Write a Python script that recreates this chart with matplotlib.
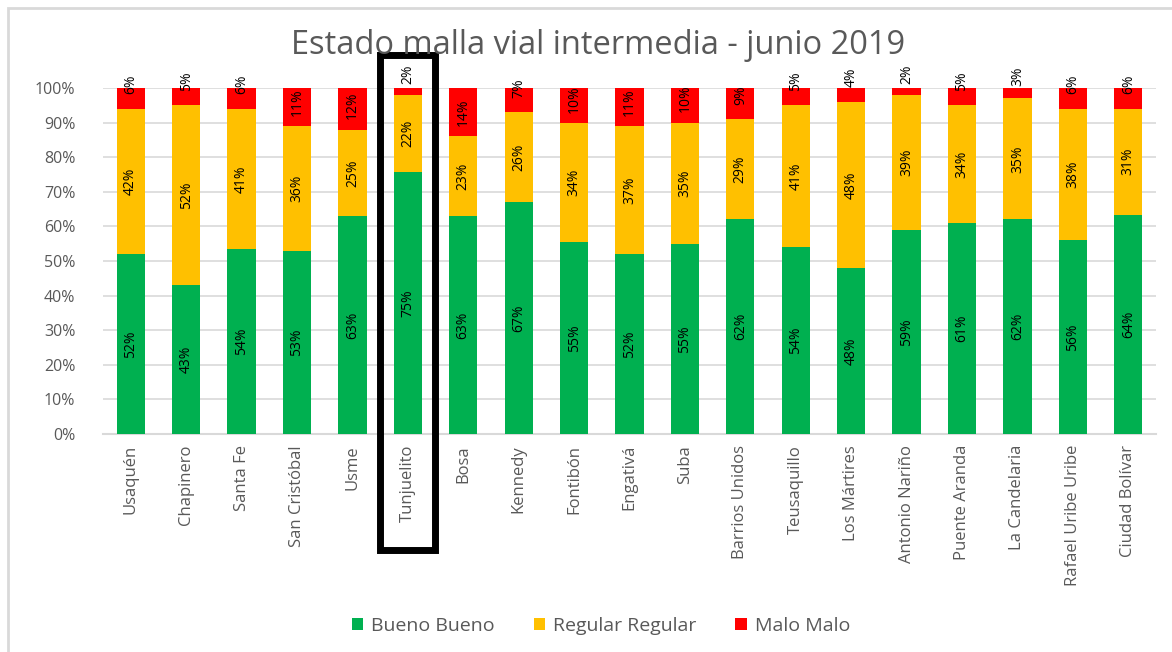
import matplotlib
matplotlib.use("Agg")
import matplotlib.pyplot as plt
from matplotlib.patches import Rectangle
import numpy as np

plt.rcParams['font.family'] = ['Open Sans', 'DejaVu Sans']

localidades = ['Usaquén', 'Chapinero', 'Santa Fe', 'San Cristóbal', 'Usme',
               'Tunjuelito', 'Bosa', 'Kennedy', 'Fontibón', 'Engativá', 'Suba',
               'Barrios Unidos', 'Teusaquillo', 'Los Mártires', 'Antonio Nariño',
               'Puente Aranda', 'La Candelaria', 'Rafael Uribe Uribe',
               'Ciudad Bolívar']
bueno = [52, 43, 54, 53, 63, 75, 63, 67, 55, 52, 55, 62, 54, 48, 59, 61, 62, 56, 64]
regular = [42, 52, 41, 36, 25, 22, 23, 26, 34, 37, 35, 29, 41, 48, 39, 34, 35, 38, 31]
malo = [6, 5, 6, 11, 12, 2, 14, 7, 10, 11, 10, 9, 5, 4, 2, 5, 3, 6, 6]
series_names = ['Bueno Bueno', 'Regular Regular', 'Malo Malo']
colors = ['#00B050', '#FFC000', '#FF0000']
resaltada = 'Tunjuelito'

vals = np.array([bueno, regular, malo], dtype=float)
pct = vals / vals.sum(axis=0) * 100  # 100% stacked

fig = plt.figure(figsize=(11.72, 6.52), dpi=100)
ax = fig.add_axes([103 / 1172, 1 - 434 / 652, (1156 - 103) / 1172, (434 - 88) / 652])

# outer chart border
fig.patches.append(Rectangle((8 / 1172, -0.1), 1.2, 1 - 8 / 652 + 0.1,
                             transform=fig.transFigure, fill=False,
                             edgecolor='#d9d9d9', lw=2))

x = np.arange(len(localidades))
bottom = np.zeros(len(localidades))
for i in range(3):
    ax.bar(x, pct[i], 0.51, bottom=bottom, color=colors[i],
           label=series_names[i], zorder=3)
    for j in range(len(x)):
        v = pct[i][j]
        yc = bottom[j] + v / 2
        if i == 2:
            yc += min(5, max(0, (14 - v) * 0.5))
        ax.text(x[j], yc, '%d%%' % vals[i][j], rotation=90, ha='center',
                va='center', fontsize=10, color='black', zorder=5)
    bottom += pct[i]

ax.set_xlim(-0.5, len(x) - 0.5)
ax.set_ylim(0, 100)
ax.set_yticks(np.arange(0, 101, 10))
ax.set_yticklabels(['%d%%' % t for t in range(0, 101, 10)])
ax.yaxis.grid(True, color='#d9d9d9', lw=1.2, zorder=0)
ax.set_axisbelow(True)
for s in ['top', 'right', 'left']:
    ax.spines[s].set_visible(False)
ax.spines['bottom'].set_color('#d9d9d9')
ax.spines['bottom'].set_linewidth(1.5)
ax.tick_params(axis='y', length=0, pad=20, labelsize=11.5, labelcolor='#595959')
ax.tick_params(axis='x', length=0, pad=8, labelsize=12, labelcolor='#595959')
ax.set_xticks(x)
ax.set_xticklabels(localidades, rotation=90, va='top')

fig.text(598.5 / 1172, 1 - 54 / 652, 'Estado malla vial intermedia - junio 2019',
         fontsize=23.5, color='#595959', ha='center', va='baseline')

# highlight box
k = localidades.index(resaltada)
ax.add_patch(Rectangle((k - 0.495, -33.5), 0.99, 143, fill=False,
                       edgecolor='black', lw=5, clip_on=False, zorder=6))

fig.legend(loc='center', bbox_to_anchor=(601 / 1172, 1 - 626 / 652), ncol=3,
           frameon=False, fontsize=14, handlelength=0.6, handleheight=0.6,
           columnspacing=2.0, handletextpad=0.4, labelcolor='#595959')

fig.savefig('out.png', dpi=100)
